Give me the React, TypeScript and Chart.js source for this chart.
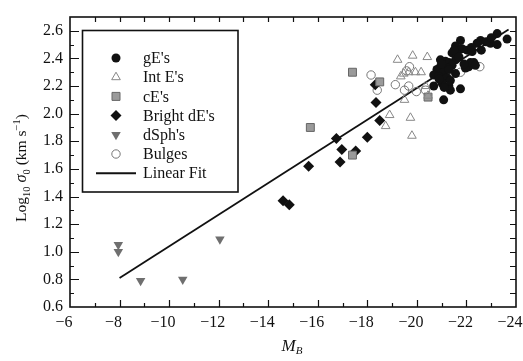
import React, { useEffect, useRef } from 'react';
import { Chart, registerables } from 'chart.js';
Chart.register(...registerables);

const FONT = '"Liberation Serif", "Times New Roman", serif';

// gE's (filled black circles)
const gE_x = [-23.24, -23.64, -22.57, -22.43, -22.97, -23.24, -21.76, -21.56, -21.82, -22.03, -22.23, -21.42, -21.62, -21.56, -20.95, -21.15, -21.29, -21.42, -20.95, -20.81, -21.22, -21.08, -20.68, -20.88, -21.22, -21.35, -21.02, -20.68, -21.29, -21.35, -21.76, -21.08, -22.09, -22.30, -21.96, -21.56, -22.16, -22.36, -22.8, -21.9, -21.0, -21.5, -21.7, -22.6, -22.2, -21.3, -20.9, -21.1, -23.0];
const gE_y = [2.58, 2.54, 2.53, 2.51, 2.51, 2.50, 2.53, 2.49, 2.47, 2.46, 2.45, 2.44, 2.43, 2.39, 2.39, 2.38, 2.37, 2.35, 2.34, 2.32, 2.33, 2.30, 2.28, 2.27, 2.26, 2.24, 2.22, 2.20, 2.20, 2.17, 2.18, 2.10, 2.34, 2.37, 2.33, 2.29, 2.37, 2.35, 2.52, 2.36, 2.36, 2.46, 2.41, 2.46, 2.48, 2.32, 2.25, 2.19, 2.55];
// Int E's (open triangles)
const intE_x = [-19.22, -19.83, -20.42, -19.47, -19.67, -19.94, -20.17, -19.5, -18.9, -18.74, -19.74, -19.8, -20.45, -20.35, -19.35];
const intE_y = [2.39, 2.42, 2.41, 2.29, 2.30, 2.30, 2.30, 2.10, 1.99, 1.91, 1.97, 1.84, 2.13, 2.20, 2.27];
// cE's (grey squares)
const cE_x = [-15.7, -17.4, -17.4, -18.5, -20.45];
const cE_y = [1.90, 2.30, 1.70, 2.23, 2.12];
// Bright dE's (black diamonds)
const bdE_x = [-14.6, -14.85, -15.63, -16.75, -16.97, -16.9, -17.53, -18.0, -18.5, -18.35, -18.32];
const bdE_y = [1.37, 1.34, 1.62, 1.82, 1.74, 1.65, 1.73, 1.83, 1.95, 2.08, 2.21];
// dSph's (grey down triangles)
const dSph_x = [-7.95, -7.95, -8.85, -10.55, -12.05];
const dSph_y = [1.05, 1.00, 0.79, 0.80, 1.09];
// Bulges (open circles)
const bul_x = [-18.15, -18.4, -19.13, -19.5, -19.67, -19.98, -19.7, -19.58, -21.76, -22.54, -20.35];
const bul_y = [2.28, 2.17, 2.21, 2.17, 2.20, 2.16, 2.34, 2.31, 2.30, 2.34, 2.17];
// Linear fit
const fit_x = [-8, -23.7];
const fit_y = [0.81, 2.61];

const xTicks = [-6, -8, -10, -12, -14, -16, -18, -20, -22, -24];
const yTicks = [0.6, 0.8, 1.0, 1.2, 1.4, 1.6, 1.8, 2.0, 2.2, 2.4, 2.6];
const legendLabels = ["gE's", "Int E's", "cE's", "Bright dE's", "dSph's", "Bulges", "Linear Fit"];

const pts = (xs: number[], ys: number[]) => xs.map((x, i) => ({ x, y: ys[i] }));
const fmt = (v: number, d: number) => {
  const s = Math.abs(v).toFixed(d);
  return v < 0 ? '\u2212' + s : s;
};

type Part = { t: string; size: number; italic?: boolean; dy?: number };
function drawRich(ctx: CanvasRenderingContext2D, parts: Part[], cx: number, baseY: number) {
  let total = 0;
  const widths = parts.map(p => {
    ctx.font = `${p.italic ? 'italic ' : ''}${p.size}px ${FONT}`;
    const w = ctx.measureText(p.t).width;
    total += w;
    return w;
  });
  let x = cx - total / 2;
  ctx.textAlign = 'left';
  ctx.textBaseline = 'alphabetic';
  parts.forEach((p, i) => {
    ctx.font = `${p.italic ? 'italic ' : ''}${p.size}px ${FONT}`;
    ctx.fillText(p.t, x, baseY + (p.dy || 0));
    x += widths[i];
  });
}

function marker(ctx: CanvasRenderingContext2D, kind: string, x: number, y: number) {
  ctx.save();
  ctx.beginPath();
  if (kind === 'gE') {
    ctx.arc(x, y, 4.5, 0, Math.PI * 2);
    ctx.fillStyle = '#111'; ctx.fill();
  } else if (kind === 'intE') {
    const r = 5;
    ctx.moveTo(x, y - r); ctx.lineTo(x + r * 0.866, y + r / 2); ctx.lineTo(x - r * 0.866, y + r / 2); ctx.closePath();
    ctx.fillStyle = '#fff'; ctx.fill(); ctx.strokeStyle = '#888'; ctx.lineWidth = 1; ctx.stroke();
  } else if (kind === 'cE') {
    ctx.rect(x - 4, y - 4, 8, 8);
    ctx.fillStyle = '#9a9a9a'; ctx.fill(); ctx.strokeStyle = '#666'; ctx.lineWidth = 1; ctx.stroke();
  } else if (kind === 'bdE') {
    const r = 5.5;
    ctx.moveTo(x, y - r); ctx.lineTo(x + r, y); ctx.lineTo(x, y + r); ctx.lineTo(x - r, y); ctx.closePath();
    ctx.fillStyle = '#111'; ctx.fill();
  } else if (kind === 'dSph') {
    const r = 5.5;
    ctx.moveTo(x, y + r); ctx.lineTo(x + r * 0.866, y - r / 2); ctx.lineTo(x - r * 0.866, y - r / 2); ctx.closePath();
    ctx.fillStyle = '#6f6f6f'; ctx.fill();
  } else if (kind === 'bul') {
    ctx.arc(x, y, 4.2, 0, Math.PI * 2);
    ctx.fillStyle = '#fff'; ctx.fill(); ctx.strokeStyle = '#777'; ctx.lineWidth = 1; ctx.stroke();
  } else if (kind === 'fit') {
    ctx.moveTo(x - 20, y); ctx.lineTo(x + 20, y);
    ctx.strokeStyle = '#111'; ctx.lineWidth = 2; ctx.stroke();
  }
  ctx.restore();
}

export default function App() {
  const ref = useRef<HTMLCanvasElement>(null);
  useEffect(() => {
    document.body.style.margin = '0';
    document.body.style.background = '#fff';
    const canvas = ref.current!;

    const decor = {
      id: 'decor',
      beforeDraw(chart: any) {
        const { ctx } = chart;
        ctx.save();
        ctx.fillStyle = '#ffffff';
        ctx.fillRect(0, 0, chart.width, chart.height);
        ctx.restore();
      },
      afterDatasetsDraw(chart: any) {
        const { ctx, chartArea: a, scales } = chart;
        const x = scales.x, y = scales.y;
        ctx.save();
        ctx.strokeStyle = '#111';
        ctx.lineWidth = 1.2;
        ctx.beginPath();
        for (let v = -7; v >= -23; v--) {
          const px = Math.round(x.getPixelForValue(v)) + 0.5;
          const major = v % 2 === 0;
          ctx.moveTo(px, a.bottom); ctx.lineTo(px, a.bottom - (major ? 7 : 4));
          ctx.moveTo(px, a.top); ctx.lineTo(px, a.top + 5);
        }
        for (let k = 7; k <= 26; k++) {
          const py = Math.round(y.getPixelForValue(k / 10)) + 0.5;
          const major = k % 2 === 0;
          ctx.moveTo(a.left, py); ctx.lineTo(a.left + (major ? 9 : 4), py);
          ctx.moveTo(a.right, py); ctx.lineTo(a.right - 6, py);
        }
        ctx.stroke();
        ctx.lineWidth = 1.6;
        ctx.strokeRect(a.left, a.top, a.right - a.left, a.bottom - a.top);

        // legend
        const lx = 82.5, ly = 30.5, lw = 155.5, lh = 161.5;
        ctx.fillStyle = '#fff';
        ctx.fillRect(lx, ly, lw, lh);
        ctx.lineWidth = 1.6;
        ctx.strokeStyle = '#111';
        ctx.strokeRect(lx, ly, lw, lh);
        const kinds = ['gE', 'intE', 'cE', 'bdE', 'dSph', 'bul', 'fit'];
        kinds.forEach((k, i) => {
          const ry = 58 + i * 19.2;
          marker(ctx, k, 116, ry);
          ctx.fillStyle = '#111';
          ctx.font = `16px ${FONT}`;
          ctx.textAlign = 'left';
          ctx.textBaseline = 'middle';
          ctx.fillText(legendLabels[i], 143, ry + 1);
        });

        // axis titles
        ctx.fillStyle = '#111';
        drawRich(ctx, [
          { t: 'M', size: 17, italic: true },
          { t: 'B', size: 11, italic: true, dy: 3 },
        ], 292, 351);
        ctx.save();
        ctx.translate(26, 168);
        ctx.rotate(-Math.PI / 2);
        drawRich(ctx, [
          { t: 'Log', size: 15.5 },
          { t: '10', size: 10.5, dy: 4 },
          { t: ' ', size: 15.5 },
          { t: '\u03C3', size: 16.5, italic: true },
          { t: '0', size: 10.5, dy: 4 },
          { t: ' (km s', size: 15.5 },
          { t: '\u22121', size: 10.5, dy: -6 },
          { t: ')', size: 15.5 },
        ], 0, 0);
        ctx.restore();
        ctx.restore();
      },
    };

    const chart = new Chart(canvas, {
      type: 'scatter',
      data: {
        datasets: [
          { label: 'Linear Fit', type: 'line', data: pts(fit_x, fit_y), borderColor: '#111', borderWidth: 1.8, pointRadius: 0, showLine: true, fill: false, order: 10 } as any,
          { label: "gE's", data: pts(gE_x, gE_y), pointStyle: 'circle', pointRadius: 4.5, backgroundColor: '#111', borderColor: '#111', borderWidth: 0 },
          { label: "Int E's", data: pts(intE_x, intE_y), pointStyle: 'triangle', pointRadius: 5, backgroundColor: 'rgba(255,255,255,0)', borderColor: '#888', borderWidth: 1 },
          { label: "cE's", data: pts(cE_x, cE_y), pointStyle: 'rect', pointRadius: 5.6, backgroundColor: '#9a9a9a', borderColor: '#666', borderWidth: 1 },
          { label: "Bright dE's", data: pts(bdE_x, bdE_y), pointStyle: 'rectRot', pointRadius: 5.5, backgroundColor: '#111', borderColor: '#111', borderWidth: 0 },
          { label: "dSph's", data: pts(dSph_x, dSph_y), pointStyle: 'triangle', rotation: 180, pointRadius: 5.5, backgroundColor: '#6f6f6f', borderColor: '#6f6f6f', borderWidth: 0 },
          { label: 'Bulges', data: pts(bul_x, bul_y), pointStyle: 'circle', pointRadius: 4.2, backgroundColor: 'rgba(255,255,255,0)', borderColor: '#777', borderWidth: 1 },
        ],
      },
      options: {
        responsive: false,
        animation: false,
        events: [],
        layout: { padding: { left: 0, right: 7, top: 17, bottom: 0 } },
        plugins: { legend: { display: false }, tooltip: { enabled: false } },
        scales: {
          x: {
            type: 'linear', min: -24, max: -6, reverse: true,
            grid: { display: false, drawTicks: false },
            border: { display: false },
            afterBuildTicks: (s: any) => { s.ticks = xTicks.map(v => ({ value: v })); },
            ticks: {
              autoSkip: false, padding: 6, color: '#111', labelOffset: -6,
              font: { family: FONT, size: 16 },
              callback: (v: any) => fmt(Number(v), 0),
            },
            afterFit: (s: any) => { s.height = 54; s.paddingLeft = 0; s.paddingRight = 0; },
          },
          y: {
            type: 'linear', min: 0.6, max: 2.7,
            grid: { display: false, drawTicks: false },
            border: { display: false },
            afterBuildTicks: (s: any) => { s.ticks = yTicks.map(v => ({ value: v })); },
            ticks: {
              autoSkip: false, padding: 7, color: '#111',
              font: { family: FONT, size: 16 },
              callback: (v: any) => Number(v).toFixed(1),
            },
            afterFit: (s: any) => { s.width = 70; s.paddingTop = 0; s.paddingBottom = 0; },
          },
        },
      },
      plugins: [decor],
    } as any);
    return () => chart.destroy();
  }, []);
  return <canvas ref={ref} width={523} height={361} style={{ display: 'block' }} />;
}
